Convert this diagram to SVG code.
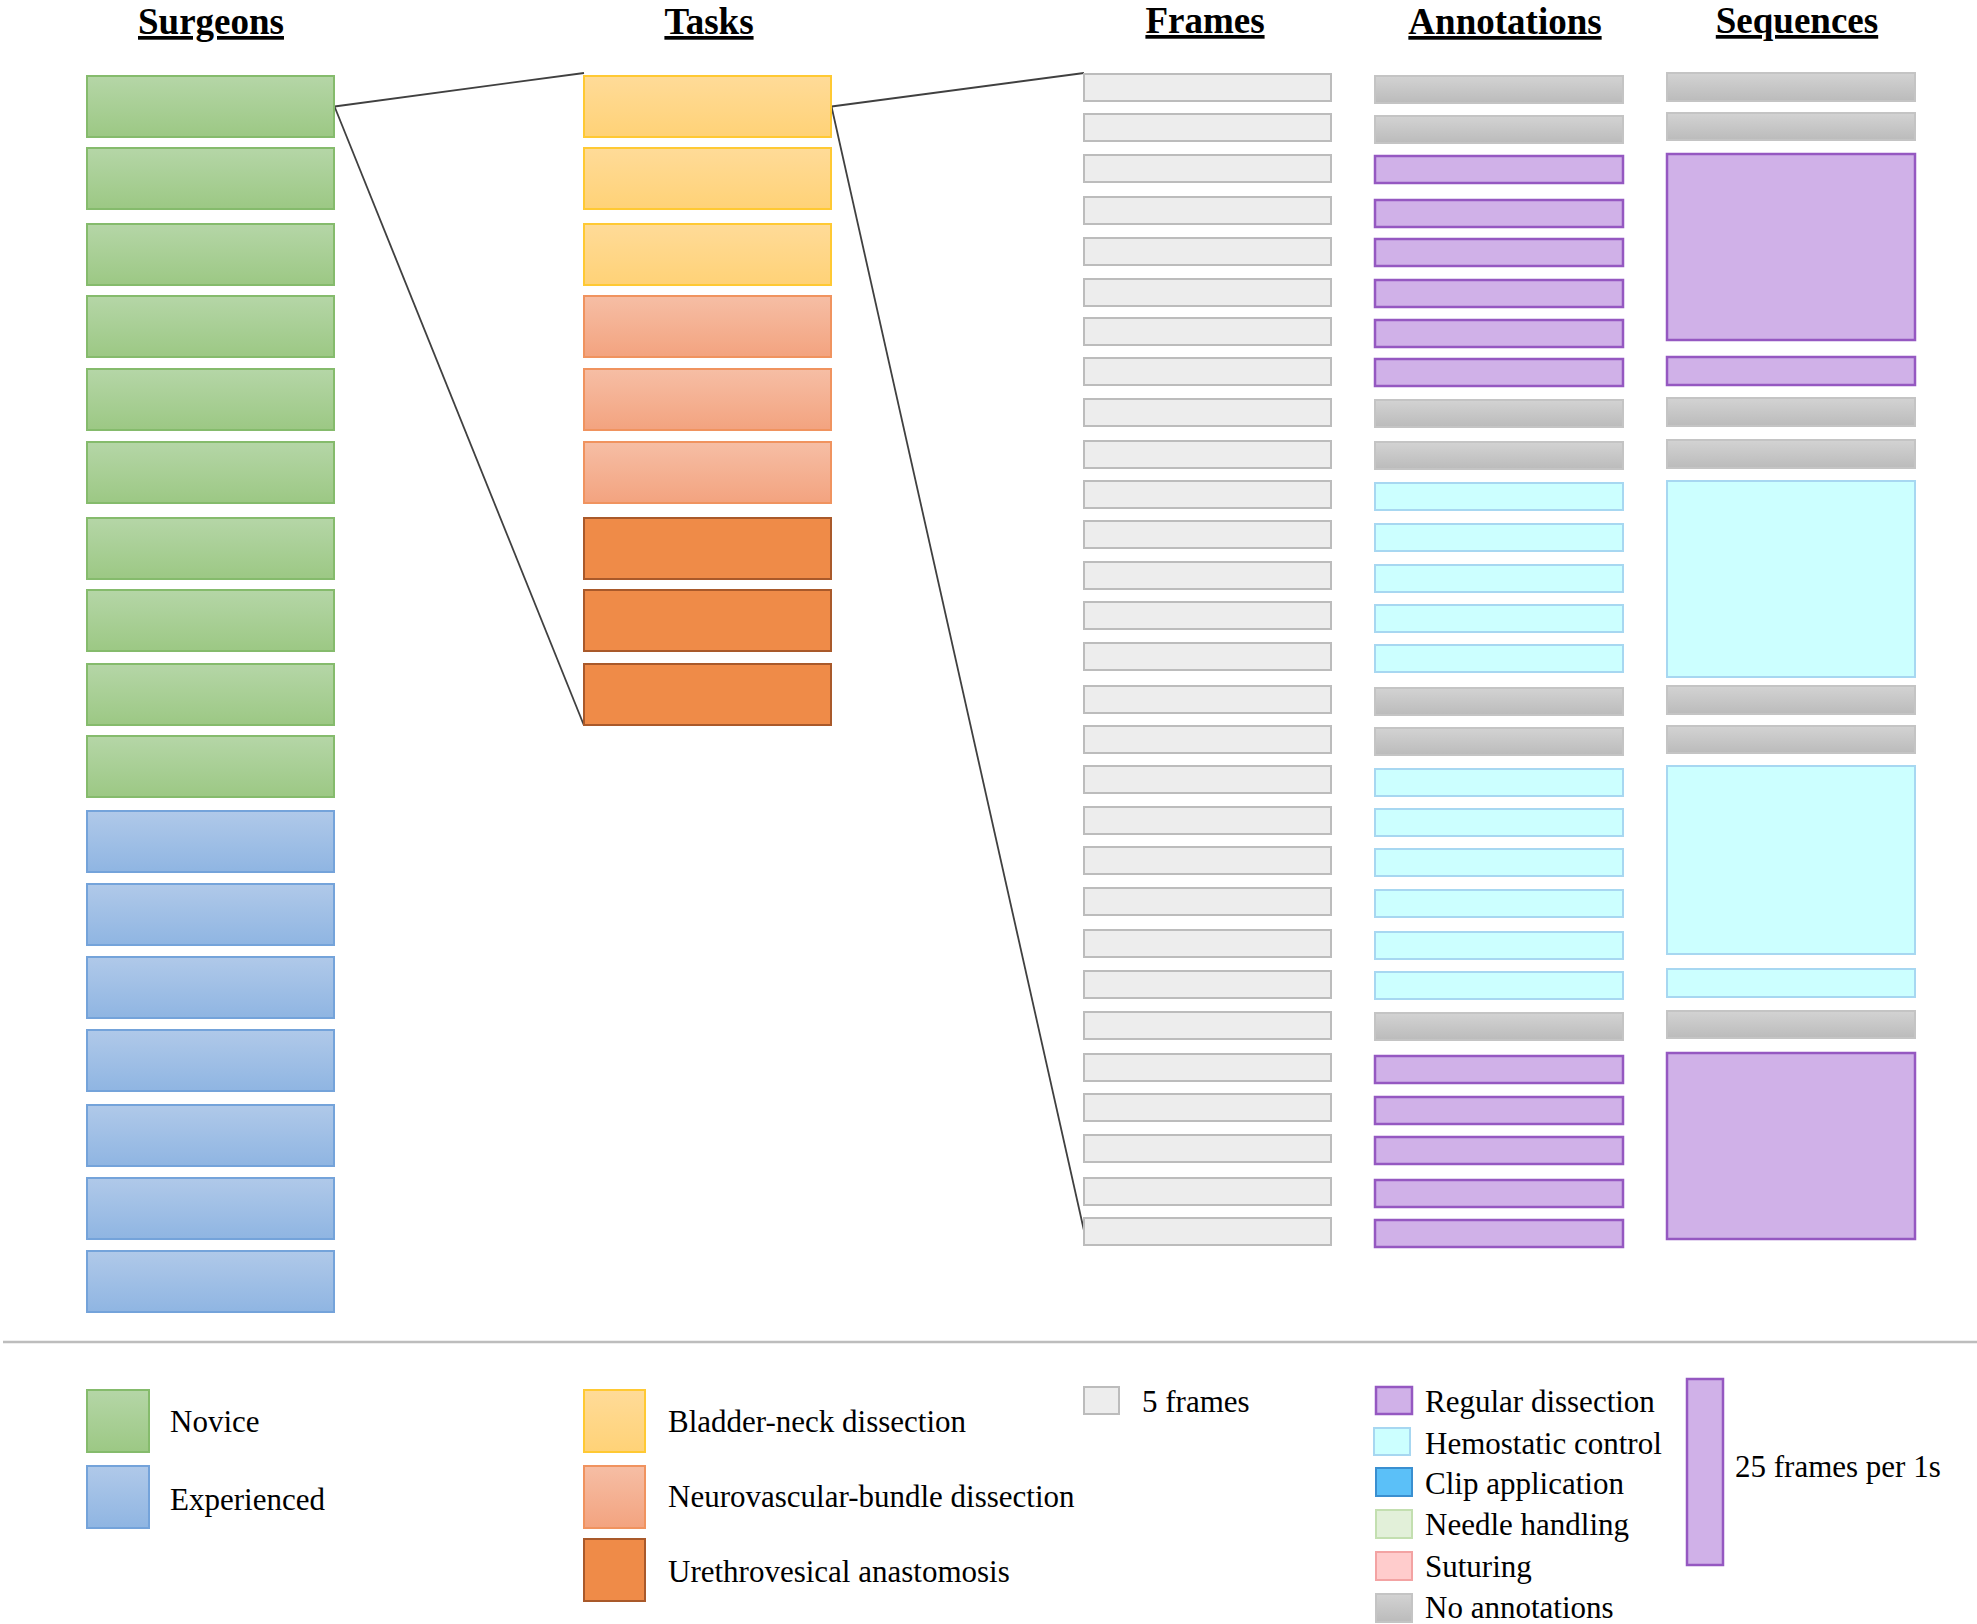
<svg xmlns="http://www.w3.org/2000/svg" width="1977" height="1624" viewBox="0 0 1977 1624">
<defs>
<linearGradient id="gGreen" x1="0" y1="0" x2="0" y2="1"><stop offset="0" stop-color="#b5d6a7"/><stop offset="1" stop-color="#9cc884"/></linearGradient>
<linearGradient id="gBlue" x1="0" y1="0" x2="0" y2="1"><stop offset="0" stop-color="#b0c9e9"/><stop offset="1" stop-color="#8fb5e2"/></linearGradient>
<linearGradient id="gYellow" x1="0" y1="0" x2="0" y2="1"><stop offset="0" stop-color="#ffdb98"/><stop offset="1" stop-color="#ffd277"/></linearGradient>
<linearGradient id="gSalmon" x1="0" y1="0" x2="0" y2="1"><stop offset="0" stop-color="#f6bea5"/><stop offset="1" stop-color="#f3a37f"/></linearGradient>
<linearGradient id="gGray" x1="0" y1="0" x2="0" y2="1"><stop offset="0" stop-color="#d3d3d3"/><stop offset="1" stop-color="#bbbbbb"/></linearGradient>
</defs>
<style>
.hd{font-family:"Liberation Serif","Times New Roman",serif;font-weight:bold;font-size:37px;text-anchor:middle;text-decoration:underline;fill:#000}
.lt{font-family:"Liberation Serif","Times New Roman",serif;font-size:31px;fill:#000}
.green{fill:url(#gGreen);stroke:#85bb6c;stroke-width:2}
.blue{fill:url(#gBlue);stroke:#74a3da;stroke-width:2}
.yellow{fill:url(#gYellow);stroke:#ffc933;stroke-width:2}
.salmon{fill:url(#gSalmon);stroke:#f0935f;stroke-width:2}
.orange{fill:#ef8b48;stroke:#a9592a;stroke-width:2}
.frame{fill:#ededed;stroke:#bcbcbc;stroke-width:2}
.gray{fill:url(#gGray);stroke:#c4c4c4;stroke-width:2}
.purple{fill:#d0b1e8;stroke:#9558c1;stroke-width:2.5}
.cyan{fill:#ccffff;stroke:#a7d7f1;stroke-width:2}
.clip{fill:#5bc0f8;stroke:#3a8fd0;stroke-width:2}
.needle{fill:#e2f0d9;stroke:#c3dfb0;stroke-width:2}
.sutur{fill:#ffcccc;stroke:#f3a3a3;stroke-width:2}
.conn{stroke:#404040;stroke-width:1.8;fill:none}
</style>
<rect width="1977" height="1624" fill="#fff"/>
<g id="headers">
<text class="hd" x="211" y="34">Surgeons</text>
<text class="hd" x="709" y="34">Tasks</text>
<text class="hd" x="1205" y="33">Frames</text>
<text class="hd" x="1505" y="34">Annotations</text>
<text class="hd" x="1797" y="33">Sequences</text>
</g>
<g id="connectors">
<line class="conn" x1="334.5" y1="106.5" x2="584" y2="73"/>
<line class="conn" x1="334.5" y1="106.5" x2="584" y2="725.5"/>
<line class="conn" x1="831.5" y1="106.5" x2="1084" y2="73"/>
<line class="conn" x1="831.5" y1="106.5" x2="1087" y2="1244"/>
</g>
<g id="surgeons">
<g id="s1"><rect class="green" x="87" y="76" width="247" height="61"/></g>
<g id="s2"><rect class="green" x="87" y="148" width="247" height="61"/></g>
<g id="s3"><rect class="green" x="87" y="224" width="247" height="61"/></g>
<g id="s4"><rect class="green" x="87" y="296" width="247" height="61"/></g>
<g id="s5"><rect class="green" x="87" y="369" width="247" height="61"/></g>
<g id="s6"><rect class="green" x="87" y="442" width="247" height="61"/></g>
<g id="s7"><rect class="green" x="87" y="518" width="247" height="61"/></g>
<g id="s8"><rect class="green" x="87" y="590" width="247" height="61"/></g>
<g id="s9"><rect class="green" x="87" y="664" width="247" height="61"/></g>
<g id="s10"><rect class="green" x="87" y="736" width="247" height="61"/></g>
<g id="s11"><rect class="blue" x="87" y="811" width="247" height="61"/></g>
<g id="s12"><rect class="blue" x="87" y="884" width="247" height="61"/></g>
<g id="s13"><rect class="blue" x="87" y="957" width="247" height="61"/></g>
<g id="s14"><rect class="blue" x="87" y="1030" width="247" height="61"/></g>
<g id="s15"><rect class="blue" x="87" y="1105" width="247" height="61"/></g>
<g id="s16"><rect class="blue" x="87" y="1178" width="247" height="61"/></g>
<g id="s17"><rect class="blue" x="87" y="1251" width="247" height="61"/></g>
</g>
<g id="tasks">
<g id="t1"><rect class="yellow" x="584" y="76" width="247" height="61"/></g>
<g id="t2"><rect class="yellow" x="584" y="148" width="247" height="61"/></g>
<g id="t3"><rect class="yellow" x="584" y="224" width="247" height="61"/></g>
<g id="t4"><rect class="salmon" x="584" y="296" width="247" height="61"/></g>
<g id="t5"><rect class="salmon" x="584" y="369" width="247" height="61"/></g>
<g id="t6"><rect class="salmon" x="584" y="442" width="247" height="61"/></g>
<g id="t7"><rect class="orange" x="584" y="518" width="247" height="61"/></g>
<g id="t8"><rect class="orange" x="584" y="590" width="247" height="61"/></g>
<g id="t9"><rect class="orange" x="584" y="664" width="247" height="61"/></g>
</g>
<g id="frames">
<g id="f1"><rect class="frame" x="1084" y="74" width="247" height="27"/></g>
<g id="f2"><rect class="frame" x="1084" y="114" width="247" height="27"/></g>
<g id="f3"><rect class="frame" x="1084" y="155" width="247" height="27"/></g>
<g id="f4"><rect class="frame" x="1084" y="197" width="247" height="27"/></g>
<g id="f5"><rect class="frame" x="1084" y="238" width="247" height="27"/></g>
<g id="f6"><rect class="frame" x="1084" y="279" width="247" height="27"/></g>
<g id="f7"><rect class="frame" x="1084" y="318" width="247" height="27"/></g>
<g id="f8"><rect class="frame" x="1084" y="358" width="247" height="27"/></g>
<g id="f9"><rect class="frame" x="1084" y="399" width="247" height="27"/></g>
<g id="f10"><rect class="frame" x="1084" y="441" width="247" height="27"/></g>
<g id="f11"><rect class="frame" x="1084" y="481" width="247" height="27"/></g>
<g id="f12"><rect class="frame" x="1084" y="521" width="247" height="27"/></g>
<g id="f13"><rect class="frame" x="1084" y="562" width="247" height="27"/></g>
<g id="f14"><rect class="frame" x="1084" y="602" width="247" height="27"/></g>
<g id="f15"><rect class="frame" x="1084" y="643" width="247" height="27"/></g>
<g id="f16"><rect class="frame" x="1084" y="686" width="247" height="27"/></g>
<g id="f17"><rect class="frame" x="1084" y="726" width="247" height="27"/></g>
<g id="f18"><rect class="frame" x="1084" y="766" width="247" height="27"/></g>
<g id="f19"><rect class="frame" x="1084" y="807" width="247" height="27"/></g>
<g id="f20"><rect class="frame" x="1084" y="847" width="247" height="27"/></g>
<g id="f21"><rect class="frame" x="1084" y="888" width="247" height="27"/></g>
<g id="f22"><rect class="frame" x="1084" y="930" width="247" height="27"/></g>
<g id="f23"><rect class="frame" x="1084" y="971" width="247" height="27"/></g>
<g id="f24"><rect class="frame" x="1084" y="1012" width="247" height="27"/></g>
<g id="f25"><rect class="frame" x="1084" y="1054" width="247" height="27"/></g>
<g id="f26"><rect class="frame" x="1084" y="1094" width="247" height="27"/></g>
<g id="f27"><rect class="frame" x="1084" y="1135" width="247" height="27"/></g>
<g id="f28"><rect class="frame" x="1084" y="1178" width="247" height="27"/></g>
<g id="f29"><rect class="frame" x="1084" y="1218" width="247" height="27"/></g>
</g>
<g id="annotations">
<g id="a1"><rect class="gray" x="1375" y="76" width="248" height="27"/></g>
<g id="a2"><rect class="gray" x="1375" y="116" width="248" height="27"/></g>
<g id="a3"><rect class="purple" x="1375" y="156" width="248" height="27"/></g>
<g id="a4"><rect class="purple" x="1375" y="200" width="248" height="27"/></g>
<g id="a5"><rect class="purple" x="1375" y="239" width="248" height="27"/></g>
<g id="a6"><rect class="purple" x="1375" y="280" width="248" height="27"/></g>
<g id="a7"><rect class="purple" x="1375" y="320" width="248" height="27"/></g>
<g id="a8"><rect class="purple" x="1375" y="359" width="248" height="27"/></g>
<g id="a9"><rect class="gray" x="1375" y="400" width="248" height="27"/></g>
<g id="a10"><rect class="gray" x="1375" y="442" width="248" height="27"/></g>
<g id="a11"><rect class="cyan" x="1375" y="483" width="248" height="27"/></g>
<g id="a12"><rect class="cyan" x="1375" y="524" width="248" height="27"/></g>
<g id="a13"><rect class="cyan" x="1375" y="565" width="248" height="27"/></g>
<g id="a14"><rect class="cyan" x="1375" y="605" width="248" height="27"/></g>
<g id="a15"><rect class="cyan" x="1375" y="645" width="248" height="27"/></g>
<g id="a16"><rect class="gray" x="1375" y="688" width="248" height="27"/></g>
<g id="a17"><rect class="gray" x="1375" y="728" width="248" height="27"/></g>
<g id="a18"><rect class="cyan" x="1375" y="769" width="248" height="27"/></g>
<g id="a19"><rect class="cyan" x="1375" y="809" width="248" height="27"/></g>
<g id="a20"><rect class="cyan" x="1375" y="849" width="248" height="27"/></g>
<g id="a21"><rect class="cyan" x="1375" y="890" width="248" height="27"/></g>
<g id="a22"><rect class="cyan" x="1375" y="932" width="248" height="27"/></g>
<g id="a23"><rect class="cyan" x="1375" y="972" width="248" height="27"/></g>
<g id="a24"><rect class="gray" x="1375" y="1013" width="248" height="27"/></g>
<g id="a25"><rect class="purple" x="1375" y="1056" width="248" height="27"/></g>
<g id="a26"><rect class="purple" x="1375" y="1097" width="248" height="27"/></g>
<g id="a27"><rect class="purple" x="1375" y="1137" width="248" height="27"/></g>
<g id="a28"><rect class="purple" x="1375" y="1180" width="248" height="27"/></g>
<g id="a29"><rect class="purple" x="1375" y="1220" width="248" height="27"/></g>
</g>
<g id="sequences">
<g id="q1"><rect class="gray" x="1667" y="73" width="248" height="28"/></g>
<g id="q2"><rect class="gray" x="1667" y="113" width="248" height="27"/></g>
<g id="q3"><rect class="purple" x="1667" y="154" width="248" height="186"/></g>
<g id="q4"><rect class="purple" x="1667" y="357" width="248" height="28"/></g>
<g id="q5"><rect class="gray" x="1667" y="398" width="248" height="28"/></g>
<g id="q6"><rect class="gray" x="1667" y="440" width="248" height="28"/></g>
<g id="q7"><rect class="cyan" x="1667" y="481" width="248" height="196"/></g>
<g id="q8"><rect class="gray" x="1667" y="686" width="248" height="28"/></g>
<g id="q9"><rect class="gray" x="1667" y="726" width="248" height="27"/></g>
<g id="q10"><rect class="cyan" x="1667" y="766" width="248" height="188"/></g>
<g id="q11"><rect class="cyan" x="1667" y="969" width="248" height="28"/></g>
<g id="q12"><rect class="gray" x="1667" y="1011" width="248" height="27"/></g>
<g id="q13"><rect class="purple" x="1667" y="1053" width="248" height="186"/></g>
</g>
<line id="separator" x1="3" y1="1342" x2="1977" y2="1342" stroke="#bdbdbd" stroke-width="2.5"/>
<g id="legend">
<g id="leg-novice"><rect class="green" x="87" y="1390" width="62" height="62"/><text class="lt" x="170" y="1432">Novice</text></g>
<g id="leg-experienced"><rect class="blue" x="87" y="1466" width="62" height="62"/><text class="lt" x="170" y="1510">Experienced</text></g>
<g id="leg-bladder"><rect class="yellow" x="584" y="1390" width="61" height="62"/><text class="lt" x="668" y="1432">Bladder-neck dissection</text></g>
<g id="leg-neuro"><rect class="salmon" x="584" y="1466" width="61" height="62"/><text class="lt" x="668" y="1507">Neurovascular-bundle dissection</text></g>
<g id="leg-urethro"><rect class="orange" x="584" y="1539" width="61" height="62"/><text class="lt" x="668" y="1582">Urethrovesical anastomosis</text></g>
<g id="leg-frames"><rect class="frame" x="1084" y="1387" width="35" height="27"/><text class="lt" x="1142" y="1412">5 frames</text></g>
<g id="leg-regular"><rect class="purple" x="1376" y="1387" width="36" height="27"/><text class="lt" x="1425" y="1412">Regular dissection</text></g>
<g id="leg-hemo"><rect class="cyan" x="1374" y="1428" width="36" height="27"/><text class="lt" x="1425" y="1454">Hemostatic control</text></g>
<g id="leg-clip"><rect class="clip" x="1376" y="1468" width="36" height="28"/><text class="lt" x="1425" y="1494">Clip application</text></g>
<g id="leg-needle"><rect class="needle" x="1376" y="1510" width="36" height="28"/><text class="lt" x="1425" y="1535">Needle handling</text></g>
<g id="leg-suturing"><rect class="sutur" x="1376" y="1552" width="36" height="28"/><text class="lt" x="1425" y="1577">Suturing</text></g>
<g id="leg-none"><rect class="gray" x="1376" y="1594" width="36" height="28"/><text class="lt" x="1425" y="1618">No annotations</text></g>
<g id="leg-seq"><rect class="purple" x="1687" y="1379" width="36" height="186"/><text class="lt" x="1735" y="1477">25 frames per 1s</text></g>
</g>
</svg>
